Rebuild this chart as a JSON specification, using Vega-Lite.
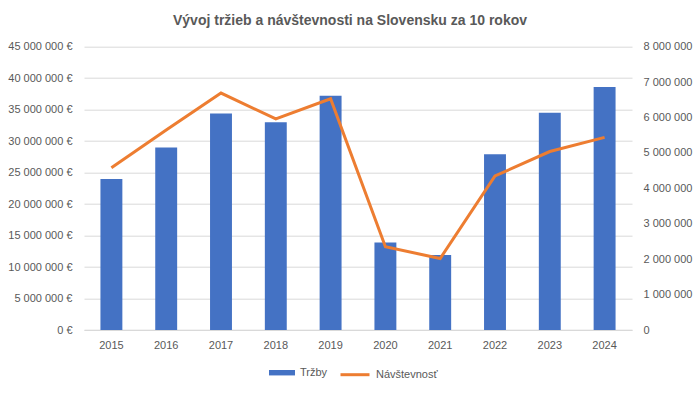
{
  "$schema": "https://vega.github.io/schema/vega-lite/v6.json",
  "autosize": {"type": "none"},
  "width": 548,
  "height": 283.3,
  "padding": {"left": 84, "top": 46.7, "right": 68, "bottom": 63},
  "background": "white",
  "title": {
    "text": "Vývoj tržieb a návštevnosti na Slovensku za 10 rokov",
    "font": "Liberation Sans",
    "fontSize": 14,
    "fontWeight": "bold",
    "color": "#595959",
    "anchor": "middle",
    "dx": -8,
    "offset": 13
  },
  "config": {
    "view": {"stroke": null},
    "axis": {
      "labelFont": "Liberation Sans",
      "labelFontSize": 11,
      "labelColor": "#595959",
      "ticks": false,
      "domain": false,
      "title": null
    },
    "legend": {
      "labelFont": "Liberation Sans",
      "labelFontSize": 11,
      "labelColor": "#595959",
      "padding": 0
    }
  },
  "data": {
    "values": [
      {"rok": "2015", "trzby": 24000000, "navstevnost": 4580000},
      {"rok": "2016", "trzby": 29000000, "navstevnost": 5650000},
      {"rok": "2017", "trzby": 34400000, "navstevnost": 6690000},
      {"rok": "2018", "trzby": 33000000, "navstevnost": 5960000},
      {"rok": "2019", "trzby": 37200000, "navstevnost": 6530000},
      {"rok": "2020", "trzby": 13900000, "navstevnost": 2350000},
      {"rok": "2021", "trzby": 11900000, "navstevnost": 2020000},
      {"rok": "2022", "trzby": 27900000, "navstevnost": 4350000},
      {"rok": "2023", "trzby": 34500000, "navstevnost": 5040000},
      {"rok": "2024", "trzby": 38600000, "navstevnost": 5440000}
    ]
  },
  "encoding": {
    "x": {
      "field": "rok",
      "type": "ordinal",
      "scale": {"paddingInner": 0.6, "paddingOuter": 0.3},
      "axis": {
        "labelAngle": 0,
        "labelPadding": 9,
        "domain": true,
        "domainColor": "#D9D9D9",
        "domainWidth": 1
      }
    }
  },
  "layer": [
    {
      "mark": {"type": "bar", "color": "#4472C4"},
      "encoding": {
        "y": {
          "field": "trzby",
          "type": "quantitative",
          "scale": {"domain": [0, 45000000], "nice": false},
          "axis": {
            "orient": "left",
            "values": [0, 5000000, 10000000, 15000000, 20000000, 25000000, 30000000, 35000000, 40000000, 45000000],
            "grid": true,
            "gridColor": "#D9D9D9",
            "gridWidth": 1,
            "labelPadding": 12,
            "labelExpr": "replace(format(datum.value, ','), regexp(',', 'g'), ' ') + ' €'"
          }
        },
        "fill": {
          "datum": "Tržby",
          "type": "nominal",
          "scale": {"domain": ["Tržby"], "range": ["#4472C4"]},
          "legend": {
            "orient": "none",
            "legendX": 185,
            "legendY": 313,
            "title": null,
            "symbolType": "M-1,-0.21 L1,-0.21 L1,0.21 L-1,0.21 Z",
            "symbolSize": 676,
            "symbolStrokeWidth": 0,
            "labelOffset": 5
          }
        }
      }
    },
    {
      "mark": {"type": "line", "color": "#ED7D31", "strokeWidth": 3},
      "encoding": {
        "y": {
          "field": "navstevnost",
          "type": "quantitative",
          "scale": {"domain": [0, 8000000], "nice": false},
          "axis": {
            "orient": "right",
            "values": [0, 1000000, 2000000, 3000000, 4000000, 5000000, 6000000, 7000000, 8000000],
            "grid": false,
            "labelPadding": 11,
            "labelExpr": "replace(format(datum.value, ','), regexp(',', 'g'), ' ')"
          }
        },
        "stroke": {
          "datum": "Návštevnosť",
          "type": "nominal",
          "scale": {"domain": ["Návštevnosť"], "range": ["#ED7D31"]},
          "legend": {
            "orient": "none",
            "legendX": 255,
            "legendY": 312,
            "title": null,
            "symbolType": "stroke",
            "symbolSize": 841,
            "symbolStrokeWidth": 3,
            "labelOffset": 5
          }
        }
      }
    }
  ],
  "resolve": {"scale": {"y": "independent"}}
}
